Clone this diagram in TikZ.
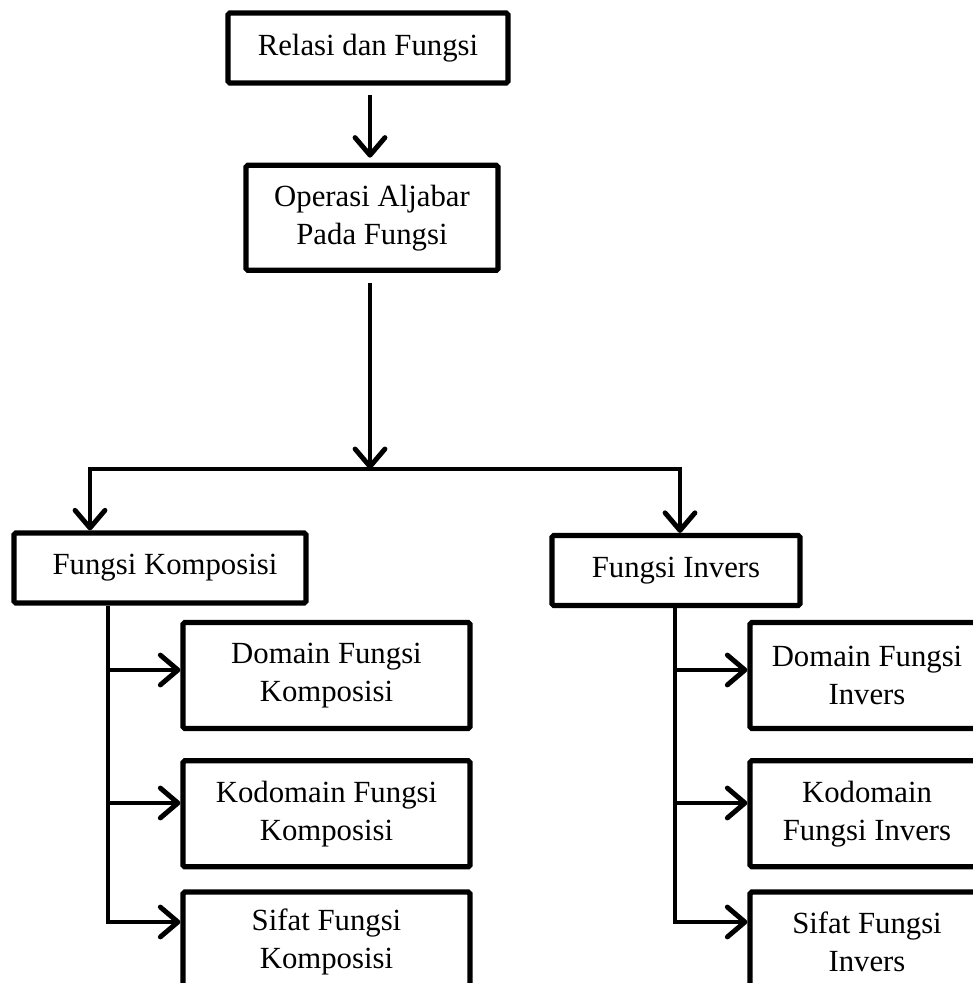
\documentclass[tikz,border=0pt]{standalone}
\usepackage{fontspec}
\setmainfont{Liberation Serif}
\usetikzlibrary{positioning,arrows.meta}

\begin{document}
\begin{tikzpicture}[basenode/.style={draw,line width=3pt,rectangle,rounded corners=1pt,align=center,inner sep=0pt,font={\fontsize{17.5}{21.5}\selectfont}},
                    mainbox/.style={basenode,minimum height=1.4cm},
                    subbox/.style={basenode,minimum height=2.12cm},
                    link/.style={line width=2.8pt},
                    arr/.style={link,-{Straight Barb[round,length=10pt,width=17pt]}}]
  \useasboundingbox (0,0) rectangle (19.46,-19.66);
  \clip (0,0) rectangle (19.46,-19.66);
  \node[mainbox,minimum width=5.6cm] (relasi) at (7.36,-0.96) {Relasi dan Fungsi};
  \node[basenode,minimum width=5.04cm,minimum height=2.1cm] (operasi) [below=1.54cm of relasi,xshift=.08cm] {Operasi Aljabar\\Pada Fungsi};
  \node[mainbox,minimum width=5.84cm] (komposisi) at (3.2,-11.36) {\hspace{.2cm}Fungsi Komposisi};
  \node[mainbox,minimum width=4.96cm] (invers) at (13.52,-11.41) {Fungsi Invers};
  \node[subbox,minimum width=5.74cm] (domain-komposisi) at (6.53,-13.51) {Domain Fungsi\\Komposisi};
  \node[subbox,minimum width=5.74cm] (kodomain-komposisi) [below=.54cm of domain-komposisi] {Kodomain Fungsi\\Komposisi};
  \node[subbox,minimum width=5.74cm,minimum height=2cm] (sifat-komposisi) [below=.4cm of kodomain-komposisi] {Sifat Fungsi\\Komposisi};
  \node[subbox,minimum width=4.68cm] (domain-invers) at (17.34,-13.51) {Domain Fungsi\\Invers};
  \node[subbox,minimum width=4.68cm] (kodomain-invers) [below=.54cm of domain-invers] {Kodomain\\Fungsi Invers};
  \node[subbox,minimum width=4.68cm,minimum height=2cm] (sifat-invers) [below=.4cm of kodomain-invers] {Sifat Fungsi\\Invers};
  \coordinate (split) at (7.4,-9.38);
  \coordinate (split-l) at (1.8,-9.38);
  \coordinate (split-r) at (13.6,-9.38);
  \coordinate (kx) at (2.16,0);
  \coordinate (ix) at (13.5,0);
  \coordinate (b1) at (0,-13.4);
  \coordinate (b2) at (0,-16.06);
  \coordinate (b3) at (0,-18.44);
  \draw[arr,shorten <=.18cm,shorten >=.1cm] (relasi.south -| split) -- (operasi.north -| split);
  \draw[arr,shorten <=.2cm] (operasi.south -| split) -- (split);
  \draw[arr] (split) -| (komposisi.north -| split-l);
  \draw[arr] (split) -| (invers.north -| split-r);
  % left branch
  \draw[arr] (komposisi.south -| kx) |- (sifat-komposisi.west |- b3);
  \draw[arr] (kx |- b1) -- (domain-komposisi.west |- b1);
  \draw[arr] (kx |- b2) -- (kodomain-komposisi.west |- b2);
  % right branch
  \draw[arr] (invers.south -| ix) |- (sifat-invers.west |- b3);
  \draw[arr] (ix |- b1) -- (domain-invers.west |- b1);
  \draw[arr] (ix |- b2) -- (kodomain-invers.west |- b2);
\end{tikzpicture}
\end{document}
